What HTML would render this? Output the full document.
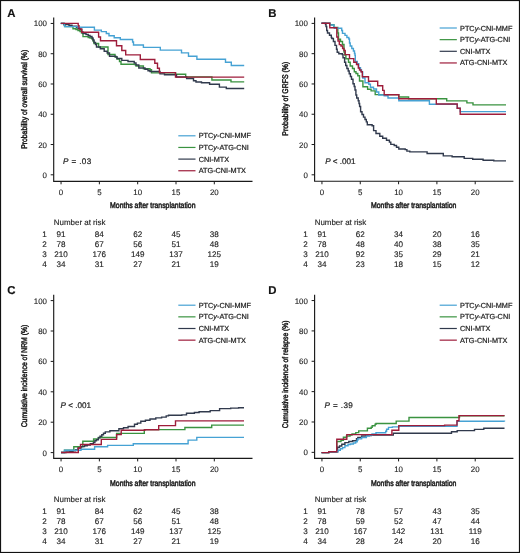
<!DOCTYPE html><html><head><meta charset="utf-8"><style>html,body{margin:0;padding:0;background:#fff;}svg{display:block;will-change:transform;}text{font-family:"Liberation Sans",sans-serif;text-rendering:geometricPrecision;fill:#1e1e1e;stroke:#1e1e1e;stroke-width:0.22px;}.tk{font-size:7.9px;stroke-width:0.12px}.tb{font-size:8.1px;stroke-width:0.14px}.nr{font-size:7.95px}.lg{font-size:7.3px}.pv{font-size:8.1px}.cl{font-size:8.2px;stroke-width:0.5px}.let{font-size:11.4px;font-weight:bold;fill:#111;stroke:#111;stroke-width:0.15px}</style></head><body>
<svg width="520" height="553" viewBox="0 0 520 553">
<rect x="0" y="0" width="520" height="553" fill="#fff"/>
<rect x="0.5" y="0.5" width="519" height="552" fill="none" stroke="#111" stroke-width="1.2"/>
<g transform="translate(0.00 0.00)">
<text class="let" x="7.3" y="17.2">A</text>
<path d="M53.70 17.60 V181.30 H252.50" fill="none" stroke="#1a1a1a" stroke-width="1.15"/>
<path d="M50.70 174.80H53.70M50.70 144.53H53.70M50.70 114.26H53.70M50.70 83.99H53.70M50.70 53.72H53.70M50.70 23.45H53.70M61.05 181.30V184.30M99.36 181.30V184.30M137.68 181.30V184.30M176.00 181.30V184.30M214.31 181.30V184.30" stroke="#1a1a1a" stroke-width="1" fill="none"/>
<text class="tk" x="47.00" y="177.80" text-anchor="end">0</text>
<text class="tk" x="47.00" y="147.53" text-anchor="end">20</text>
<text class="tk" x="47.00" y="117.26" text-anchor="end">40</text>
<text class="tk" x="47.00" y="86.99" text-anchor="end">60</text>
<text class="tk" x="47.00" y="56.72" text-anchor="end">80</text>
<text class="tk" x="47.00" y="26.45" text-anchor="end">100</text>
<text class="tk" x="61.05" y="194.90" text-anchor="middle">0</text>
<text class="tk" x="99.36" y="194.90" text-anchor="middle">5</text>
<text class="tk" x="137.68" y="194.90" text-anchor="middle">10</text>
<text class="tk" x="176.00" y="194.90" text-anchor="middle">15</text>
<text class="tk" x="214.31" y="194.90" text-anchor="middle">20</text>
<text class="cl" x="110.1" y="208.4" textLength="85.4" lengthAdjust="spacingAndGlyphs">Months after transplantation</text>
<text class="cl" transform="translate(27.3 99.30) rotate(-90)" x="0" y="0" text-anchor="middle" textLength="99.0" lengthAdjust="spacingAndGlyphs">Probability of overall survival (%)</text>
<text class="pv" x="63.00" y="164.30" textLength="28.3" lengthAdjust="spacing"><tspan font-style="italic">P</tspan> = .03</text>
<path d="M178.30 135.80H195.50" stroke="#46a2d4" stroke-width="1.2"/>
<text class="lg" x="198.70" y="138.30">PTC<tspan font-style="italic">y</tspan>-CNI-MMF</text>
<path d="M178.30 147.45H195.50" stroke="#3a9340" stroke-width="1.2"/>
<text class="lg" x="198.70" y="149.95">PTC<tspan font-style="italic">y</tspan>-ATG-CNI</text>
<path d="M178.30 159.10H195.50" stroke="#313a4d" stroke-width="1.2"/>
<text class="lg" x="198.70" y="161.60">CNI-MTX</text>
<path d="M178.30 170.75H195.50" stroke="#9e1d3b" stroke-width="1.2"/>
<text class="lg" x="198.70" y="173.25">ATG-CNI-MTX</text>
<path d="M60.8 23.4H64.0V24.8H65.0V26.6H73.0V28.7H76.0V29.6H78.0V30.5H80.0V31.5H81.5V33.0H83.0V36.6H88.2V37.5H90.0V38.0H92.0V39.0H93.0V41.0H94.0V43.5H98.6V47.0H108.0V54.5H115.0V57.0H117.0V59.0H119.5V61.5H121.0V64.2H134.5V64.6H136.0V66.0H143.4V68.8H150.0V69.7H151.5V72.9H175.5V74.3H185.7V76.9H211.9V80.0H231.0V81.9H244.2V81.9" fill="none" stroke="#3a9340" stroke-width="1.4"/>
<path d="M60.8 23.4H64.0V24.6H69.0V25.2H72.0V26.2H76.5V27.5H78.0V28.2H80.0V29.5H81.7V32.0H83.0V33.5H86.0V34.5H88.2V35.5H90.0V36.5H92.0V38.0H93.0V40.0H94.0V42.5H95.5V44.5H96.5V47.0H100.3V48.8H104.2V51.2H107.2V53.0H109.5V56.2H115.7V56.9H117.0V58.5H121.8V60.4H128.0V61.5H134.2V63.0H136.0V65.0H138.8V68.0H145.0V69.2H148.0V70.8H150.0V71.5H160.0V73.9H164.5V74.8H176.5V77.0H186.6V78.5H193.5V80.8H196.0V82.0H201.5V82.8H209.6V84.2H219.4V87.1H226.3V88.5H244.2V88.5" fill="none" stroke="#313a4d" stroke-width="1.4"/>
<path d="M60.8 23.5H64.5V26.6H78.0V27.2H94.4V30.1H101.3V31.6H106.3V33.5H109.0V35.8H114.2V37.8H120.3V39.5H132.6V42.0H133.5V45.0H143.4V47.4H160.3V50.1H181.5V52.9H188.5V56.3H196.9V59.2H225.5V62.3H231.3V65.5H244.2V65.5" fill="none" stroke="#46a2d4" stroke-width="1.4"/>
<path d="M60.8 23.4H78.2V25.8H79.0V28.9H81.7V32.2H98.6V37.0H100.5V40.8H116.5V45.8H121.8V50.5H125.7V54.9H140.3V59.5H154.8V63.2H157.5V68.3H159.4V72.6H175.5V77.1H244.2V77.1" fill="none" stroke="#9e1d3b" stroke-width="1.4"/>
<text class="tb nr" x="53.8" y="225.0">Number at risk</text>
<text class="tb" x="44.5" y="236.80" text-anchor="middle">1</text>
<text class="tb" x="61.05" y="236.80" text-anchor="middle">91</text>
<text class="tb" x="99.36" y="236.80" text-anchor="middle">84</text>
<text class="tb" x="137.68" y="236.80" text-anchor="middle">62</text>
<text class="tb" x="176.00" y="236.80" text-anchor="middle">45</text>
<text class="tb" x="214.31" y="236.80" text-anchor="middle">38</text>
<text class="tb" x="44.5" y="246.80" text-anchor="middle">2</text>
<text class="tb" x="61.05" y="246.80" text-anchor="middle">78</text>
<text class="tb" x="99.36" y="246.80" text-anchor="middle">67</text>
<text class="tb" x="137.68" y="246.80" text-anchor="middle">56</text>
<text class="tb" x="176.00" y="246.80" text-anchor="middle">51</text>
<text class="tb" x="214.31" y="246.80" text-anchor="middle">48</text>
<text class="tb" x="44.5" y="256.80" text-anchor="middle">3</text>
<text class="tb" x="61.05" y="256.80" text-anchor="middle">210</text>
<text class="tb" x="99.36" y="256.80" text-anchor="middle">176</text>
<text class="tb" x="137.68" y="256.80" text-anchor="middle">149</text>
<text class="tb" x="176.00" y="256.80" text-anchor="middle">137</text>
<text class="tb" x="214.31" y="256.80" text-anchor="middle">125</text>
<text class="tb" x="44.5" y="266.80" text-anchor="middle">4</text>
<text class="tb" x="61.05" y="266.80" text-anchor="middle">34</text>
<text class="tb" x="99.36" y="266.80" text-anchor="middle">31</text>
<text class="tb" x="137.68" y="266.80" text-anchor="middle">27</text>
<text class="tb" x="176.00" y="266.80" text-anchor="middle">21</text>
<text class="tb" x="214.31" y="266.80" text-anchor="middle">19</text>
</g>
<g transform="translate(260.90 0.00)">
<text class="let" x="7.3" y="17.2">B</text>
<path d="M53.70 17.60 V181.25 H252.50" fill="none" stroke="#1a1a1a" stroke-width="1.15"/>
<path d="M50.70 174.80H53.70M50.70 144.52H53.70M50.70 114.24H53.70M50.70 83.96H53.70M50.70 53.68H53.70M50.70 23.40H53.70M61.05 181.25V184.25M99.36 181.25V184.25M137.68 181.25V184.25M176.00 181.25V184.25M214.31 181.25V184.25" stroke="#1a1a1a" stroke-width="1" fill="none"/>
<text class="tk" x="47.00" y="177.80" text-anchor="end">0</text>
<text class="tk" x="47.00" y="147.52" text-anchor="end">20</text>
<text class="tk" x="47.00" y="117.24" text-anchor="end">40</text>
<text class="tk" x="47.00" y="86.96" text-anchor="end">60</text>
<text class="tk" x="47.00" y="56.68" text-anchor="end">80</text>
<text class="tk" x="47.00" y="26.40" text-anchor="end">100</text>
<text class="tk" x="61.05" y="194.90" text-anchor="middle">0</text>
<text class="tk" x="99.36" y="194.90" text-anchor="middle">5</text>
<text class="tk" x="137.68" y="194.90" text-anchor="middle">10</text>
<text class="tk" x="176.00" y="194.90" text-anchor="middle">15</text>
<text class="tk" x="214.31" y="194.90" text-anchor="middle">20</text>
<text class="cl" x="110.1" y="208.4" textLength="85.4" lengthAdjust="spacingAndGlyphs">Months after transplantation</text>
<text class="cl" transform="translate(27.3 98.70) rotate(-90)" x="0" y="0" text-anchor="middle" textLength="74.0" lengthAdjust="spacingAndGlyphs">Probability of GRFS (%)</text>
<text class="pv" x="64.25" y="164.10"><tspan font-style="italic">P</tspan> < .001</text>
<path d="M178.75 28.00H195.95" stroke="#46a2d4" stroke-width="1.2"/>
<text class="lg" x="199.15" y="30.50">PTC<tspan font-style="italic">y</tspan>-CNI-MMF</text>
<path d="M178.75 39.65H195.95" stroke="#3a9340" stroke-width="1.2"/>
<text class="lg" x="199.15" y="42.15">PTC<tspan font-style="italic">y</tspan>-ATG-CNI</text>
<path d="M178.75 51.30H195.95" stroke="#313a4d" stroke-width="1.2"/>
<text class="lg" x="199.15" y="53.80">CNI-MTX</text>
<path d="M178.75 62.95H195.95" stroke="#9e1d3b" stroke-width="1.2"/>
<text class="lg" x="199.15" y="65.45">ATG-CNI-MTX</text>
<path d="M60.6 23.3H68.9V24.8H73.0V27.5H76.9V33.0H77.6V39.2H79.6V41.5H81.6V44.5H83.1V48.5H83.1V52.0H83.9V55.0H85.0V58.7H87.6V62.3H89.3V66.0H91.6V68.5H93.4V71.8H95.1V73.5H96.9V75.8H98.6V81.0H102.0V86.8H106.7V89.2H110.2V90.9H114.3V94.6H137.9V97.0H147.7V98.7H185.8V100.9H206.0V102.9H212.1V104.9H245.1V104.9" fill="none" stroke="#3a9340" stroke-width="1.4"/>
<path d="M60.6 23.3H64.6V24.5H65.1V26.5H65.8V30.5H66.6V33.0H68.6V35.3H70.4V37.5H70.9V38.5H72.5V41.5H74.1V45.4H75.6V49.2H76.3V52.3H77.9V53.8H81.4V54.5H82.1V57.7H83.7V62.3H84.8V65.5H86.0V68.5H87.3V71.0H88.3V73.8H89.5V76.5H90.6V79.2H92.1V83.8H93.3V86.5H94.1V90.0H95.0V95.0H95.8V98.0H97.3V100.8H98.1V103.5H98.7V106.5H99.7V111.8H101.1V114.5H102.6V117.1H104.1V119.5H105.4V121.9H106.4V124.8H111.2V125.8H112.7V130.6H115.1V133.5H118.9V136.3H121.8V138.3H125.6V140.2H128.5V142.1H129.9V144.4H133.3V145.5H135.6V147.3H137.9V149.0H144.3V149.6H146.0V151.1H148.9V151.9H166.2V153.5H182.4V155.9H191.2V156.8H203.3V158.4H211.8V159.3H222.2V160.2H232.9V160.9H245.1V160.9" fill="none" stroke="#313a4d" stroke-width="1.4"/>
<path d="M60.6 23.3H68.9V25.0H73.0V27.5H73.8V28.2H80.8V30.5H81.6V33.4H84.1V35.4H86.0V37.5H87.9V39.0H88.6V43.0H89.3V46.0H90.9V48.5H92.5V51.0H93.6V53.5H94.1V55.4H94.4V61.5H96.3V63.8H97.9V67.7H99.6V70.0H100.6V72.0H101.8V78.0H104.1V82.7H107.9V84.2H109.5V87.3H112.6V89.0H115.6V92.0H117.9V95.0H123.3V95.8H127.1V98.0H137.9V100.8H168.5V104.2H196.3V108.3H199.3V111.6H245.1V111.6" fill="none" stroke="#46a2d4" stroke-width="1.4"/>
<path d="M60.6 23.3H68.9V27.7H75.9V37.0H77.1V41.0H78.4V44.6H80.1V46.0H81.7V48.5H83.1V50.5H84.3V54.6H88.6V58.6H92.9V62.3H95.6V64.5H97.4V68.0H98.6V70.0H100.1V71.8H101.4V76.8H107.6V81.2H116.8V85.8H121.8V90.4H123.3V94.8H137.9V98.7H175.4V104.0H196.3V108.3H199.3V114.3H245.1V114.3" fill="none" stroke="#9e1d3b" stroke-width="1.4"/>
<text class="tb nr" x="53.8" y="225.0">Number at risk</text>
<text class="tb" x="44.5" y="236.80" text-anchor="middle">1</text>
<text class="tb" x="61.05" y="236.80" text-anchor="middle">91</text>
<text class="tb" x="99.36" y="236.80" text-anchor="middle">62</text>
<text class="tb" x="137.68" y="236.80" text-anchor="middle">34</text>
<text class="tb" x="176.00" y="236.80" text-anchor="middle">20</text>
<text class="tb" x="214.31" y="236.80" text-anchor="middle">16</text>
<text class="tb" x="44.5" y="246.80" text-anchor="middle">2</text>
<text class="tb" x="61.05" y="246.80" text-anchor="middle">78</text>
<text class="tb" x="99.36" y="246.80" text-anchor="middle">48</text>
<text class="tb" x="137.68" y="246.80" text-anchor="middle">40</text>
<text class="tb" x="176.00" y="246.80" text-anchor="middle">38</text>
<text class="tb" x="214.31" y="246.80" text-anchor="middle">35</text>
<text class="tb" x="44.5" y="256.80" text-anchor="middle">3</text>
<text class="tb" x="61.05" y="256.80" text-anchor="middle">210</text>
<text class="tb" x="99.36" y="256.80" text-anchor="middle">92</text>
<text class="tb" x="137.68" y="256.80" text-anchor="middle">35</text>
<text class="tb" x="176.00" y="256.80" text-anchor="middle">29</text>
<text class="tb" x="214.31" y="256.80" text-anchor="middle">21</text>
<text class="tb" x="44.5" y="266.80" text-anchor="middle">4</text>
<text class="tb" x="61.05" y="266.80" text-anchor="middle">34</text>
<text class="tb" x="99.36" y="266.80" text-anchor="middle">23</text>
<text class="tb" x="137.68" y="266.80" text-anchor="middle">18</text>
<text class="tb" x="176.00" y="266.80" text-anchor="middle">15</text>
<text class="tb" x="214.31" y="266.80" text-anchor="middle">12</text>
</g>
<g transform="translate(0.00 277.20)">
<text class="let" x="7.3" y="17.2">C</text>
<path d="M53.70 17.60 V181.20 H252.50" fill="none" stroke="#1a1a1a" stroke-width="1.15"/>
<path d="M50.70 175.40H53.70M50.70 145.00H53.70M50.70 114.60H53.70M50.70 84.20H53.70M50.70 53.80H53.70M50.70 23.40H53.70M61.05 181.20V184.20M99.36 181.20V184.20M137.68 181.20V184.20M176.00 181.20V184.20M214.31 181.20V184.20" stroke="#1a1a1a" stroke-width="1" fill="none"/>
<text class="tk" x="47.00" y="178.40" text-anchor="end">0</text>
<text class="tk" x="47.00" y="148.00" text-anchor="end">20</text>
<text class="tk" x="47.00" y="117.60" text-anchor="end">40</text>
<text class="tk" x="47.00" y="87.20" text-anchor="end">60</text>
<text class="tk" x="47.00" y="56.80" text-anchor="end">80</text>
<text class="tk" x="47.00" y="26.40" text-anchor="end">100</text>
<text class="tk" x="61.05" y="194.90" text-anchor="middle">0</text>
<text class="tk" x="99.36" y="194.90" text-anchor="middle">5</text>
<text class="tk" x="137.68" y="194.90" text-anchor="middle">10</text>
<text class="tk" x="176.00" y="194.90" text-anchor="middle">15</text>
<text class="tk" x="214.31" y="194.90" text-anchor="middle">20</text>
<text class="cl" x="110.1" y="208.4" textLength="85.4" lengthAdjust="spacingAndGlyphs">Months after transplantation</text>
<text class="cl" transform="translate(27.3 98.80) rotate(-90)" x="0" y="0" text-anchor="middle" textLength="102.7" lengthAdjust="spacingAndGlyphs">Cumulative incidence of NRM (%)</text>
<text class="pv" x="60.50" y="131.00"><tspan font-style="italic">P</tspan> < .001</text>
<path d="M178.30 28.00H195.50" stroke="#46a2d4" stroke-width="1.2"/>
<text class="lg" x="198.70" y="30.50">PTC<tspan font-style="italic">y</tspan>-CNI-MMF</text>
<path d="M178.30 39.65H195.50" stroke="#3a9340" stroke-width="1.2"/>
<text class="lg" x="198.70" y="42.15">PTC<tspan font-style="italic">y</tspan>-ATG-CNI</text>
<path d="M178.30 51.30H195.50" stroke="#313a4d" stroke-width="1.2"/>
<text class="lg" x="198.70" y="53.80">CNI-MTX</text>
<path d="M178.30 62.95H195.50" stroke="#9e1d3b" stroke-width="1.2"/>
<text class="lg" x="198.70" y="65.45">ATG-CNI-MTX</text>
<path d="M61.0 175.3H64.5V173.0H73.8V169.5H82.8V164.0H93.6V161.8H98.4V160.3H116.6V156.2H144.3V152.4H184.9V150.3H211.7V147.9H244.0V147.9" fill="none" stroke="#3a9340" stroke-width="1.4"/>
<path d="M61.0 175.3H66.0V174.8H70.0V174.3H73.0V173.6H75.5V172.4H78.0V170.8H81.0V169.4H84.5V168.6H87.2V167.8H90.3V166.6H93.4V165.3H94.9V163.6H96.5V162.6H98.4V160.5H100.0V159.1H101.8V157.6H103.5V156.1H105.3V154.7H109.9V153.6H118.9V151.6H123.5V150.5H128.1V149.3H134.5V147.0H137.4V145.9H140.8V144.1H145.4V143.0H150.0V141.8H155.8V140.7H161.6V139.9H166.2V138.7H168.5V138.0H181.8V137.7H186.5V136.1H194.4V135.3H199.1V134.5H210.2V133.4H219.6V131.4H230.7V130.9H238.6V130.6H244.0V130.6" fill="none" stroke="#313a4d" stroke-width="1.4"/>
<path d="M61.0 175.3H64.5V173.0H81.0V172.1H94.6V169.6H107.6V168.2H133.3V166.5H188.1V162.9H196.8V160.2H244.0V160.2" fill="none" stroke="#46a2d4" stroke-width="1.4"/>
<path d="M61.0 175.3H78.3V170.8H80.5V167.3H101.3V162.2H116.6V157.4H121.2V153.0H144.8V152.6H158.7V148.4H175.5V143.7H244.0V143.7" fill="none" stroke="#9e1d3b" stroke-width="1.4"/>
<text class="tb nr" x="53.8" y="225.0">Number at risk</text>
<text class="tb" x="44.5" y="236.80" text-anchor="middle">1</text>
<text class="tb" x="61.05" y="236.80" text-anchor="middle">91</text>
<text class="tb" x="99.36" y="236.80" text-anchor="middle">84</text>
<text class="tb" x="137.68" y="236.80" text-anchor="middle">62</text>
<text class="tb" x="176.00" y="236.80" text-anchor="middle">45</text>
<text class="tb" x="214.31" y="236.80" text-anchor="middle">38</text>
<text class="tb" x="44.5" y="246.80" text-anchor="middle">2</text>
<text class="tb" x="61.05" y="246.80" text-anchor="middle">78</text>
<text class="tb" x="99.36" y="246.80" text-anchor="middle">67</text>
<text class="tb" x="137.68" y="246.80" text-anchor="middle">56</text>
<text class="tb" x="176.00" y="246.80" text-anchor="middle">51</text>
<text class="tb" x="214.31" y="246.80" text-anchor="middle">48</text>
<text class="tb" x="44.5" y="256.80" text-anchor="middle">3</text>
<text class="tb" x="61.05" y="256.80" text-anchor="middle">210</text>
<text class="tb" x="99.36" y="256.80" text-anchor="middle">176</text>
<text class="tb" x="137.68" y="256.80" text-anchor="middle">149</text>
<text class="tb" x="176.00" y="256.80" text-anchor="middle">137</text>
<text class="tb" x="214.31" y="256.80" text-anchor="middle">125</text>
<text class="tb" x="44.5" y="266.80" text-anchor="middle">4</text>
<text class="tb" x="61.05" y="266.80" text-anchor="middle">34</text>
<text class="tb" x="99.36" y="266.80" text-anchor="middle">31</text>
<text class="tb" x="137.68" y="266.80" text-anchor="middle">27</text>
<text class="tb" x="176.00" y="266.80" text-anchor="middle">21</text>
<text class="tb" x="214.31" y="266.80" text-anchor="middle">19</text>
</g>
<g transform="translate(260.90 277.20)">
<text class="let" x="7.3" y="17.2">D</text>
<path d="M53.70 17.60 V181.20 H252.50" fill="none" stroke="#1a1a1a" stroke-width="1.15"/>
<path d="M50.70 175.15H53.70M50.70 144.79H53.70M50.70 114.43H53.70M50.70 84.07H53.70M50.70 53.71H53.70M50.70 23.35H53.70M61.05 181.20V184.20M99.36 181.20V184.20M137.68 181.20V184.20M176.00 181.20V184.20M214.31 181.20V184.20" stroke="#1a1a1a" stroke-width="1" fill="none"/>
<text class="tk" x="47.00" y="178.15" text-anchor="end">0</text>
<text class="tk" x="47.00" y="147.79" text-anchor="end">20</text>
<text class="tk" x="47.00" y="117.43" text-anchor="end">40</text>
<text class="tk" x="47.00" y="87.07" text-anchor="end">60</text>
<text class="tk" x="47.00" y="56.71" text-anchor="end">80</text>
<text class="tk" x="47.00" y="26.35" text-anchor="end">100</text>
<text class="tk" x="61.05" y="194.90" text-anchor="middle">0</text>
<text class="tk" x="99.36" y="194.90" text-anchor="middle">5</text>
<text class="tk" x="137.68" y="194.90" text-anchor="middle">10</text>
<text class="tk" x="176.00" y="194.90" text-anchor="middle">15</text>
<text class="tk" x="214.31" y="194.90" text-anchor="middle">20</text>
<text class="cl" x="110.1" y="208.4" textLength="85.4" lengthAdjust="spacingAndGlyphs">Months after transplantation</text>
<text class="cl" transform="translate(27.3 97.20) rotate(-90)" x="0" y="0" text-anchor="middle" textLength="107.8" lengthAdjust="spacingAndGlyphs">Cumulative incidence of relapse (%)</text>
<text class="pv" x="63.65" y="130.80" textLength="28.3" lengthAdjust="spacing"><tspan font-style="italic">P</tspan> = .39</text>
<path d="M178.75 28.00H195.95" stroke="#46a2d4" stroke-width="1.2"/>
<text class="lg" x="199.15" y="30.50">PTC<tspan font-style="italic">y</tspan>-CNI-MMF</text>
<path d="M178.75 39.65H195.95" stroke="#3a9340" stroke-width="1.2"/>
<text class="lg" x="199.15" y="42.15">PTC<tspan font-style="italic">y</tspan>-ATG-CNI</text>
<path d="M178.75 51.30H195.95" stroke="#313a4d" stroke-width="1.2"/>
<text class="lg" x="199.15" y="53.80">CNI-MTX</text>
<path d="M178.75 62.95H195.95" stroke="#9e1d3b" stroke-width="1.2"/>
<text class="lg" x="199.15" y="65.45">ATG-CNI-MTX</text>
<path d="M60.6 175.4H67.9V174.6H75.9V164.3H80.1V163.1H82.5V160.0H85.6V158.8H89.1V157.8H91.1V156.8H94.9V155.4H97.8V153.7H106.5V151.1H110.3V150.1H111.3V148.6H114.2V147.0H115.1V146.3H135.3V143.9H148.1V140.3H198.6V138.6H243.6V138.6" fill="none" stroke="#3a9340" stroke-width="1.4"/>
<path d="M60.6 175.4H67.9V174.6H76.7V170.0H78.6V168.8H80.9V167.0H84.0V165.4H87.9V164.3H91.7V163.5H95.6V161.6H96.9V160.3H100.7V158.8H105.1V158.3H110.3V157.9H132.4V156.0H190.6V154.5H196.3V153.4H213.6V152.2H222.9V151.1H243.6V151.1" fill="none" stroke="#313a4d" stroke-width="1.4"/>
<path d="M60.6 175.4H67.9V174.6H77.1V173.1H79.4V171.6H81.7V170.4H84.0V168.5H87.1V167.3H89.6V166.8H92.5V165.8H94.8V164.6H96.3V163.1H96.9V161.7H100.7V160.3H105.5V158.8H108.4V157.9H111.1V156.8H115.1V155.5H124.8V154.0H125.7V152.1H127.6V150.2H131.5V149.7H137.9V149.0H196.1V144.1H243.6V144.3" fill="none" stroke="#46a2d4" stroke-width="1.4"/>
<path d="M60.6 175.4H67.9V174.6H75.9V162.0H85.9V157.4H131.0V153.1H137.9V148.4H183.7V147.9H196.1V143.6H198.1V138.4H243.6V138.4" fill="none" stroke="#9e1d3b" stroke-width="1.4"/>
<text class="tb nr" x="53.8" y="225.0">Number at risk</text>
<text class="tb" x="44.5" y="236.80" text-anchor="middle">1</text>
<text class="tb" x="61.05" y="236.80" text-anchor="middle">91</text>
<text class="tb" x="99.36" y="236.80" text-anchor="middle">78</text>
<text class="tb" x="137.68" y="236.80" text-anchor="middle">57</text>
<text class="tb" x="176.00" y="236.80" text-anchor="middle">43</text>
<text class="tb" x="214.31" y="236.80" text-anchor="middle">35</text>
<text class="tb" x="44.5" y="246.80" text-anchor="middle">2</text>
<text class="tb" x="61.05" y="246.80" text-anchor="middle">78</text>
<text class="tb" x="99.36" y="246.80" text-anchor="middle">59</text>
<text class="tb" x="137.68" y="246.80" text-anchor="middle">52</text>
<text class="tb" x="176.00" y="246.80" text-anchor="middle">47</text>
<text class="tb" x="214.31" y="246.80" text-anchor="middle">44</text>
<text class="tb" x="44.5" y="256.80" text-anchor="middle">3</text>
<text class="tb" x="61.05" y="256.80" text-anchor="middle">210</text>
<text class="tb" x="99.36" y="256.80" text-anchor="middle">167</text>
<text class="tb" x="137.68" y="256.80" text-anchor="middle">142</text>
<text class="tb" x="176.00" y="256.80" text-anchor="middle">131</text>
<text class="tb" x="214.31" y="256.80" text-anchor="middle">119</text>
<text class="tb" x="44.5" y="266.80" text-anchor="middle">4</text>
<text class="tb" x="61.05" y="266.80" text-anchor="middle">34</text>
<text class="tb" x="99.36" y="266.80" text-anchor="middle">28</text>
<text class="tb" x="137.68" y="266.80" text-anchor="middle">24</text>
<text class="tb" x="176.00" y="266.80" text-anchor="middle">20</text>
<text class="tb" x="214.31" y="266.80" text-anchor="middle">16</text>
</g>
</svg></body></html>
